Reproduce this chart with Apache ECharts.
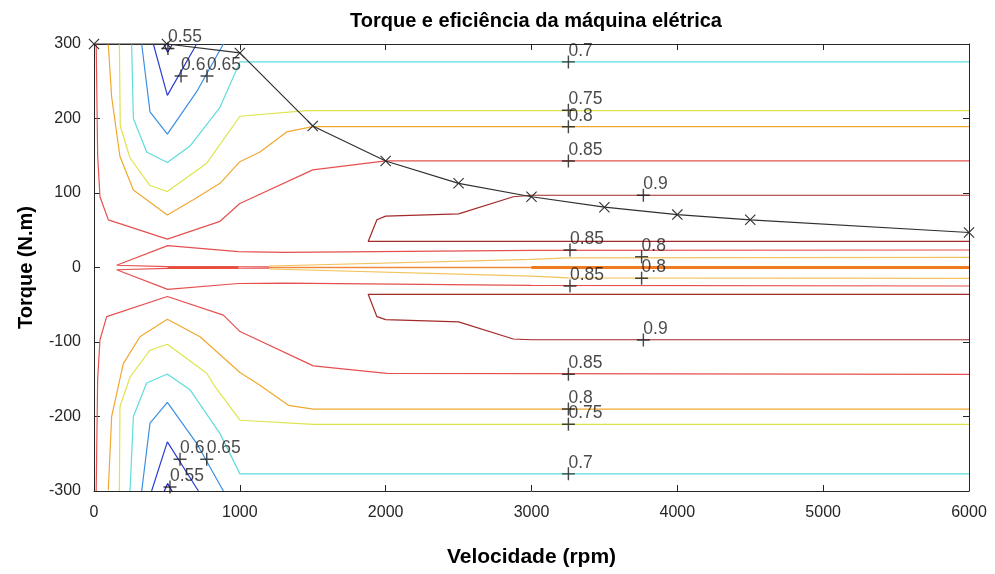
<!DOCTYPE html>
<html>
<head>
<meta charset="utf-8">
<title>Torque e eficiência da máquina elétrica</title>
<script src="https://cdn.jsdelivr.net/npm/echarts@6/dist/echarts.min.js"></script>
<style>
  html, body { margin: 0; padding: 0; background: #ffffff; }
  #chart { width: 995px; height: 574px; }
</style>
</head>
<body>
<div id="chart"></div>
<script>
// Axis ranges and tick spacing
const speedTicks = [0, 1000, 2000, 3000, 4000, 5000, 6000];
const torqueTicks = [-300, -200, -100, 0, 100, 200, 300];

// Maximum torque envelope (rpm, N.m)
const envSpeed  = [0, 500, 1000, 1500, 2000, 2500, 3000, 3500, 4000, 4500, 6000];
const envTorque = [300, 300, 288, 190, 143, 113, 95, 81, 71, 64, 47];

// Efficiency iso-lines, [rpm, N.m] vertices, motoring (upper) half
const eff055Pos = [[478, 300], [505, 289], [538, 300]];
const eff060Pos = [[407, 300], [503, 231], [704, 300]];
const eff065Pos = [[327, 300], [384, 209], [503, 179], [704, 236], [887, 300]];
const eff070Pos = [[258, 300], [270, 200], [361, 155], [503, 141], [658, 163], [864, 215], [1001, 276], [6000, 276]];
const eff075Pos = [[174, 300], [180, 190], [247, 147], [384, 110], [503, 102], [773, 140], [1001, 203], [1458, 210.5], [6000, 210.5]];
const eff080Pos = [[98, 300], [121, 229], [178, 149], [270, 104], [503, 70.5], [681, 91], [864, 113], [1000, 142], [1138, 155], [1321, 182], [1500, 189], [6000, 189]];
const eff085Pos = [[15, 300], [25, 150], [41, 95], [98, 64], [503, 38], [864, 62], [1000, 86], [1500, 131], [2000, 143], [6000, 143]];
const eff090Pos = [[6000, 97], [3000, 97], [2875, 95], [2500, 72], [2000, 69], [1940, 64], [1880, 35], [6000, 35]];
const eff085InnerPos = [[6000, 23.5], [3000, 23], [1300, 20.4], [990, 21.3], [505, 29.3], [155, 3], [505, 1.2], [1000, 1], [1200, 0.8]];
const eff080InnerPos = [[1200, 2], [3000, 11], [3250, 13], [6000, 13.5]];

// Efficiency iso-lines, generating (lower) half
const eff055Neg = [[482, -300], [505, -290], [535, -300]];
const eff060Neg = [[395, -300], [503, -234], [716, -300]];
const eff065Neg = [[327, -300], [384, -209], [503, -181], [704, -236], [887, -300]];
const eff070Neg = [[247, -300], [270, -200], [361, -155], [503, -143], [658, -164], [864, -223], [1001, -277], [6000, -277]];
const eff075Neg = [[174, -300], [178, -187], [247, -147], [384, -111], [503, -103], [773, -142], [830, -160], [1001, -205], [1504, -210.5], [6000, -210.5]];
const eff080Neg = [[98, -299], [121, -200], [201, -129], [315, -93], [503, -69.5], [727, -93], [1001, -141], [1138, -158], [1333, -185], [1504, -190], [6000, -190]];
const eff085Neg = [[15, -300], [25, -150], [41, -97], [87, -66], [503, -39], [887, -64], [1001, -86], [1504, -132], [2007, -142], [6000, -143.4]];
const eff090Neg = [[6000, -97], [3000, -97], [2875, -96], [2500, -73], [2000, -70], [1940, -66], [1880, -36], [6000, -36]];
const eff085InnerNeg = [[6000, -24.8], [3000, -24], [1300, -21], [990, -21.5], [505, -29.3], [155, -3], [505, -1.2], [1000, -1], [1200, -0.8]];
const eff080InnerNeg = [[1200, -2], [3000, -11.5], [3250, -14], [6000, -14.5]];

// Low-torque band: efficiency collapses onto the zero-torque line
const zeroBandLow  = [[505, 0], [990, 0]];
const zeroBandMid  = [[1200, 0], [6000, 0]];
const zeroBandHigh = [[3000, 0], [6000, 0]];

// Contour label anchors: [rpm, N.m, text]
const contourLabels = [
  [507, 294, '0.55'], [597, 257, '0.6'], [775, 257, '0.65'],
  [3253, 276, '0.7'], [3253, 211, '0.75'], [3253, 189, '0.8'], [3253, 143, '0.85'],
  [3767, 97, '0.9'], [3264, 23.5, '0.85'], [3755, 14.5, '0.8'],
  [3755, -14.5, '0.8'], [3264, -24.8, '0.85'], [3767, -97.3, '0.9'],
  [3253, -143.4, '0.85'], [3253, -190, '0.8'], [3253, -210.5, '0.75'], [3253, -277, '0.7'],
  [590, -257.5, '0.6'], [773, -257.5, '0.65'], [521, -294.6, '0.55']
];

// Level colours (jet-like map)
const levelColors = {
  '0.55': '#1c1ab8',
  '0.6':  '#2b3ed4',
  '0.65': '#3a8fe2',
  '0.7':  '#5fdcdc',
  '0.75': '#dfe44c',
  '0.8':  '#f0a832',
  '0.85': '#e65050',
  '0.9':  '#a42a2a'
};

const FONT = "'Liberation Sans', Arial, Helvetica, sans-serif";
const AXIS_COLOR = '#262626';

function contour(data, color, width) {
  return {
    type: 'line',
    data: data,
    showSymbol: false,
    symbol: 'none',
    silent: true,
    animation: false,
    lineStyle: { color: color, width: width || 1.2 },
    z: 2
  };
}

const plusSymbol = 'path://M4.45,0H5.55V10H4.45Z M0,4.45H10V5.55H0Z';
const crossSymbol = 'path://M0,0.7L0.7,0L5,4.3L9.3,0L10,0.7L5.7,5L10,9.3L9.3,10L5,5.7L0.7,10L0,9.3L4.3,5Z';

const series = [
  contour(eff055Pos, levelColors['0.55']),
  contour(eff060Pos, levelColors['0.6']),
  contour(eff065Pos, levelColors['0.65']),
  contour(eff070Pos, levelColors['0.7']),
  contour(eff075Pos, levelColors['0.75']),
  contour(eff080Pos, levelColors['0.8']),
  contour(eff085Pos, levelColors['0.85']),
  contour(eff090Pos, levelColors['0.9']),
  contour(eff055Neg, levelColors['0.55']),
  contour(eff060Neg, levelColors['0.6']),
  contour(eff065Neg, levelColors['0.65']),
  contour(eff070Neg, levelColors['0.7']),
  contour(eff075Neg, levelColors['0.75']),
  contour(eff080Neg, levelColors['0.8']),
  contour(eff085Neg, levelColors['0.85']),
  contour(eff090Neg, levelColors['0.9']),
  contour(zeroBandMid, '#f08a3a', 1.6),
  contour(eff080InnerPos, '#f2c35c'),
  contour(eff080InnerNeg, '#f2c35c'),
  contour(eff085InnerPos, levelColors['0.85']),
  contour(eff085InnerNeg, levelColors['0.85']),
  contour(zeroBandLow, '#e84a3a', 2.6),
  contour(zeroBandHigh, '#f07a20', 3),
  // maximum torque envelope
  {
    type: 'line',
    data: envSpeed.map((s, i) => [s, envTorque[i]]),
    symbol: crossSymbol,
    symbolSize: 11,
    showSymbol: true,
    clip: false,
    animation: false,
    silent: true,
    lineStyle: { color: '#303030', width: 1.2 },
    itemStyle: { color: '#303030' },
    z: 5
  },
  // contour labels
  {
    type: 'scatter',
    data: contourLabels.map(d => ({ value: [d[0], d[1]], name: d[2] })),
    symbol: plusSymbol,
    symbolSize: 13,
    clip: false,
    animation: false,
    silent: true,
    itemStyle: { color: '#1a1a1a' },
    label: {
      show: true,
      position: 'inside',
      align: 'left',
      verticalAlign: 'middle',
      offset: [0, -11],
      formatter: p => p.name,
      fontFamily: FONT,
      fontSize: 17.5,
      color: '#1a1a1a'
    },
    z: 6
  }
];

const baseX = {
  type: 'value',
  min: 0,
  max: 6000,
  interval: 1000,
  splitLine: { show: false },
  axisLine: { show: true, onZero: false, lineStyle: { color: AXIS_COLOR, width: 1 } },
  axisTick: { show: true, inside: true, length: 6, lineStyle: { color: AXIS_COLOR } }
};
const baseY = {
  type: 'value',
  min: -300,
  max: 300,
  interval: 100,
  splitLine: { show: false },
  axisLine: { show: true, onZero: false, lineStyle: { color: AXIS_COLOR, width: 1 } },
  axisTick: { show: true, inside: true, length: 6, lineStyle: { color: AXIS_COLOR } }
};

const chart = echarts.init(document.getElementById('chart'), null, { renderer: 'canvas' });
chart.setOption({
  animation: false,
  backgroundColor: '#ffffff',
  title: {
    text: 'Torque e eficiência da máquina elétrica',
    left: 531,
    top: 6,
    textAlign: 'center',
    textStyle: { fontFamily: FONT, fontSize: 20, fontWeight: 'bold', color: '#000000' }
  },
  grid: { left: 94, right: 26, top: 44, bottom: 83 },
  xAxis: [
    Object.assign({}, baseX, {
      position: 'bottom',
      name: 'Velocidade (rpm)',
      nameLocation: 'middle',
      nameGap: 56,
      nameTextStyle: { fontFamily: FONT, fontSize: 21, fontWeight: 'bold', color: '#000000' },
      axisLabel: {
        margin: 14,
        fontFamily: FONT,
        fontSize: 16,
        color: AXIS_COLOR,
        formatter: v => (speedTicks.indexOf(v) >= 0 ? String(v) : '')
      }
    }),
    Object.assign({}, baseX, { position: 'top', axisLabel: { show: false } })
  ],
  yAxis: [
    Object.assign({}, baseY, {
      position: 'left',
      name: 'Torque (N.m)',
      nameLocation: 'middle',
      nameGap: 58,
      nameRotate: 90,
      nameTextStyle: { fontFamily: FONT, fontSize: 20, fontWeight: 'bold', color: '#000000' },
      axisLabel: {
        margin: 13,
        fontFamily: FONT,
        fontSize: 16,
        color: AXIS_COLOR,
        formatter: v => (torqueTicks.indexOf(v) >= 0 ? String(v) : '')
      }
    }),
    Object.assign({}, baseY, { position: 'right', axisLabel: { show: false } })
  ],
  series: series
});
</script>
</body>
</html>
